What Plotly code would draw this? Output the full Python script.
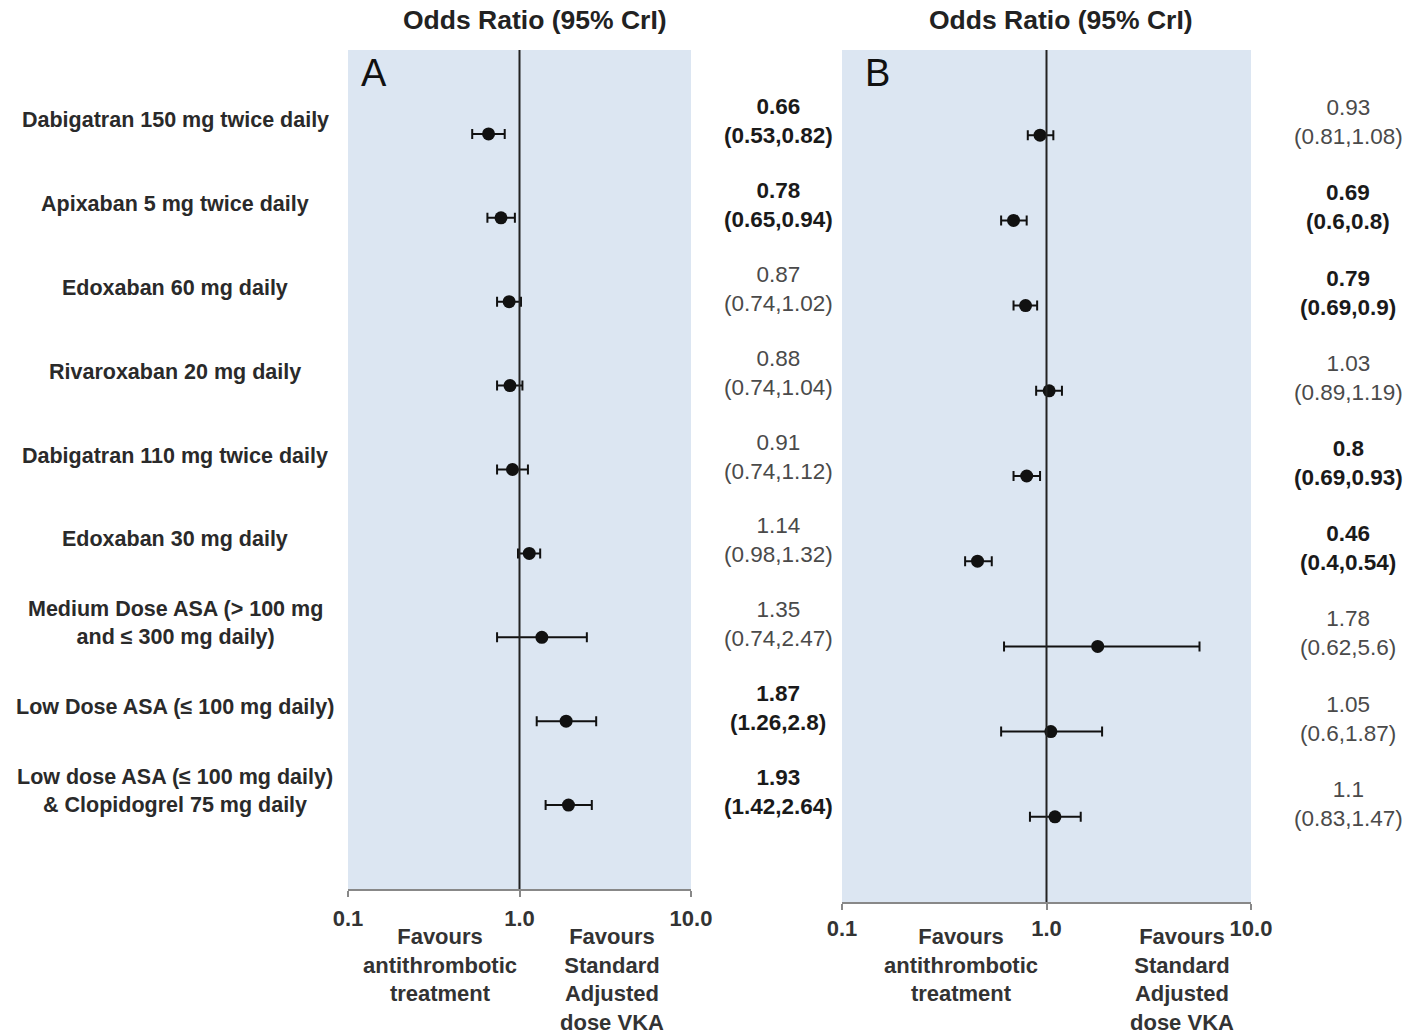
import html
import plotly.graph_objects as go

# Treatments compared with standard adjusted-dose VKA
treatments = [
    "Dabigatran 150 mg twice daily",
    "Apixaban 5 mg twice daily",
    "Edoxaban 60 mg daily",
    "Rivaroxaban 20 mg daily",
    "Dabigatran 110 mg twice daily",
    "Edoxaban 30 mg daily",
    "Medium Dose ASA (> 100 mg\nand ≤ 300 mg daily)",
    "Low Dose ASA (≤ 100 mg daily)",
    "Low dose ASA (≤ 100 mg daily)\n& Clopidogrel 75 mg daily",
]

# Panel A: odds ratios with 95% credible intervals
or_a = [0.66, 0.78, 0.87, 0.88, 0.91, 1.14, 1.35, 1.87, 1.93]
lo_a = [0.53, 0.65, 0.74, 0.74, 0.74, 0.98, 0.74, 1.26, 1.42]
hi_a = [0.82, 0.94, 1.02, 1.04, 1.12, 1.32, 2.47, 2.8, 2.64]

# Panel B: odds ratios with 95% credible intervals
or_b = [0.93, 0.69, 0.79, 1.03, 0.8, 0.46, 1.78, 1.05, 1.1]
lo_b = [0.81, 0.6, 0.69, 0.89, 0.69, 0.4, 0.62, 0.6, 0.83]
hi_b = [1.08, 0.8, 0.9, 1.19, 0.93, 0.54, 5.6, 1.87, 1.47]

tick_vals = [0.1, 1, 10]
tick_text = ["0.1", "1.0", "10.0"]
panel_title = "Odds Ratio (95% CrI)"
favours_left = "Favours\nantithrombotic\ntreatment"
favours_right = "Favours\nStandard\nAdjusted\ndose VKA"

W, H = 1412, 1035
FONT = "Liberation Sans, Arial, sans-serif"
BG = "#dce6f2"
rows = list(range(1, len(treatments) + 1))


def px_x(p):
    return p / W


def px_y(p):
    return 1 - p / H


def rich(s):
    return html.escape(s, quote=False).replace("\n", "<br>")


fig = go.Figure()

for ors, los, his, xa, ya in [(or_a, lo_a, hi_a, "x", "y"), (or_b, lo_b, hi_b, "x2", "y2")]:
    fig.add_trace(go.Scatter(
        x=ors, y=rows, xaxis=xa, yaxis=ya, mode="markers",
        marker=dict(color="#111111", size=13),
        error_x=dict(type="data", symmetric=False,
                     array=[h - o for h, o in zip(his, ors)],
                     arrayminus=[o - l for o, l in zip(ors, los)],
                     color="#111111", thickness=2, width=5),
        showlegend=False, hoverinfo="skip",
    ))

axis_common = dict(
    type="log", range=[-1, 1], tickvals=tick_vals,
    ticktext=[f"<b>{t}</b>" for t in tick_text],
    ticks="outside", ticklen=6, tickwidth=1.5, tickcolor="#888888",
    showline=True, linecolor="#888888", linewidth=2, showgrid=False,
    zeroline=False, tickfont=dict(family=FONT, size=22, color="#333333"),
    fixedrange=True, automargin=False,
)
yaxis_common = dict(range=[10, 0], showgrid=False, zeroline=False,
                    showticklabels=False, showline=False, ticks="",
                    fixedrange=True, automargin=False)

fig.update_layout(
    width=W, height=H,
    margin=dict(l=0, r=0, t=0, b=0, pad=0),
    paper_bgcolor="white", plot_bgcolor=BG,
    font=dict(family=FONT, color="#222222"),
    xaxis=dict(domain=[px_x(348), px_x(691)], anchor="y",
               ticklabelstandoff=3, **axis_common),
    yaxis=dict(domain=[px_y(889), px_y(50)], anchor="x", **yaxis_common),
    xaxis2=dict(domain=[px_x(842), px_x(1251)], anchor="y2",
                ticklabelstandoff=0, **axis_common),
    yaxis2=dict(domain=[px_y(902), px_y(50)], anchor="x2", **yaxis_common),
)

# Reference line at OR = 1
for xa, ya in [("x", "y"), ("x2", "y2")]:
    fig.add_shape(type="line", xref=xa, yref=f"{ya} domain", x0=1, x1=1, y0=0, y1=1,
                  line=dict(color="#222222", width=2), layer="above")

ann = []

# Panel titles and letters
for cx, letter, lx in [(535, "A", 374), (1061, "B", 877)]:
    ann.append(dict(xref="paper", yref="paper", x=px_x(cx), y=px_y(20),
                    text=f"<b>{panel_title}</b>", showarrow=False,
                    xanchor="center", yanchor="middle",
                    font=dict(family=FONT, size=26.5, color="#222222")))
    ann.append(dict(xref="paper", yref="paper", x=px_x(lx), y=px_y(73),
                    text=letter, showarrow=False, xanchor="center", yanchor="middle",
                    font=dict(family=FONT, size=38, color="#111111")))

# Treatment labels
for r, name in zip(rows, treatments):
    ann.append(dict(xref="paper", yref="y", x=px_x(175), y=r, yshift=14,
                    text=f"<b>{rich(name)}</b>", showarrow=False,
                    xanchor="center", yanchor="middle", align="center",
                    font=dict(family=FONT, size=21.5, color="#2a2a2a")))

# Odds ratio / interval text columns
for ors, los, his, ya, cx in [(or_a, lo_a, hi_a, "y", 778), (or_b, lo_b, hi_b, "y2", 1348)]:
    for r, o, l, h in zip(rows, ors, los, his):
        txt = f"{o:g}<br>({l:g},{h:g})"
        significant = h < 1 or l > 1
        if significant:
            txt = f"<b>{o:g}</b><br><b>({l:g},{h:g})</b>"
        ann.append(dict(xref="paper", yref=ya, x=px_x(cx), y=r, yshift=13,
                        text=txt, showarrow=False, xanchor="center",
                        yanchor="middle", align="center",
                        font=dict(family=FONT, size=22.5,
                                  color="#1a1a1a" if significant else "#4a4a4a")))

# Direction-of-effect captions under each axis
for cx, txt in [(440, favours_left), (612, favours_right),
                (961, favours_left), (1182, favours_right)]:
    ann.append(dict(xref="paper", yref="paper", x=px_x(cx), y=px_y(922),
                    text=f"<b>{rich(txt)}</b>", showarrow=False,
                    xanchor="center", yanchor="top", align="center",
                    font=dict(family=FONT, size=22, color="#333333")))

fig.update_layout(annotations=ann)
fig.write_html("out.html")
